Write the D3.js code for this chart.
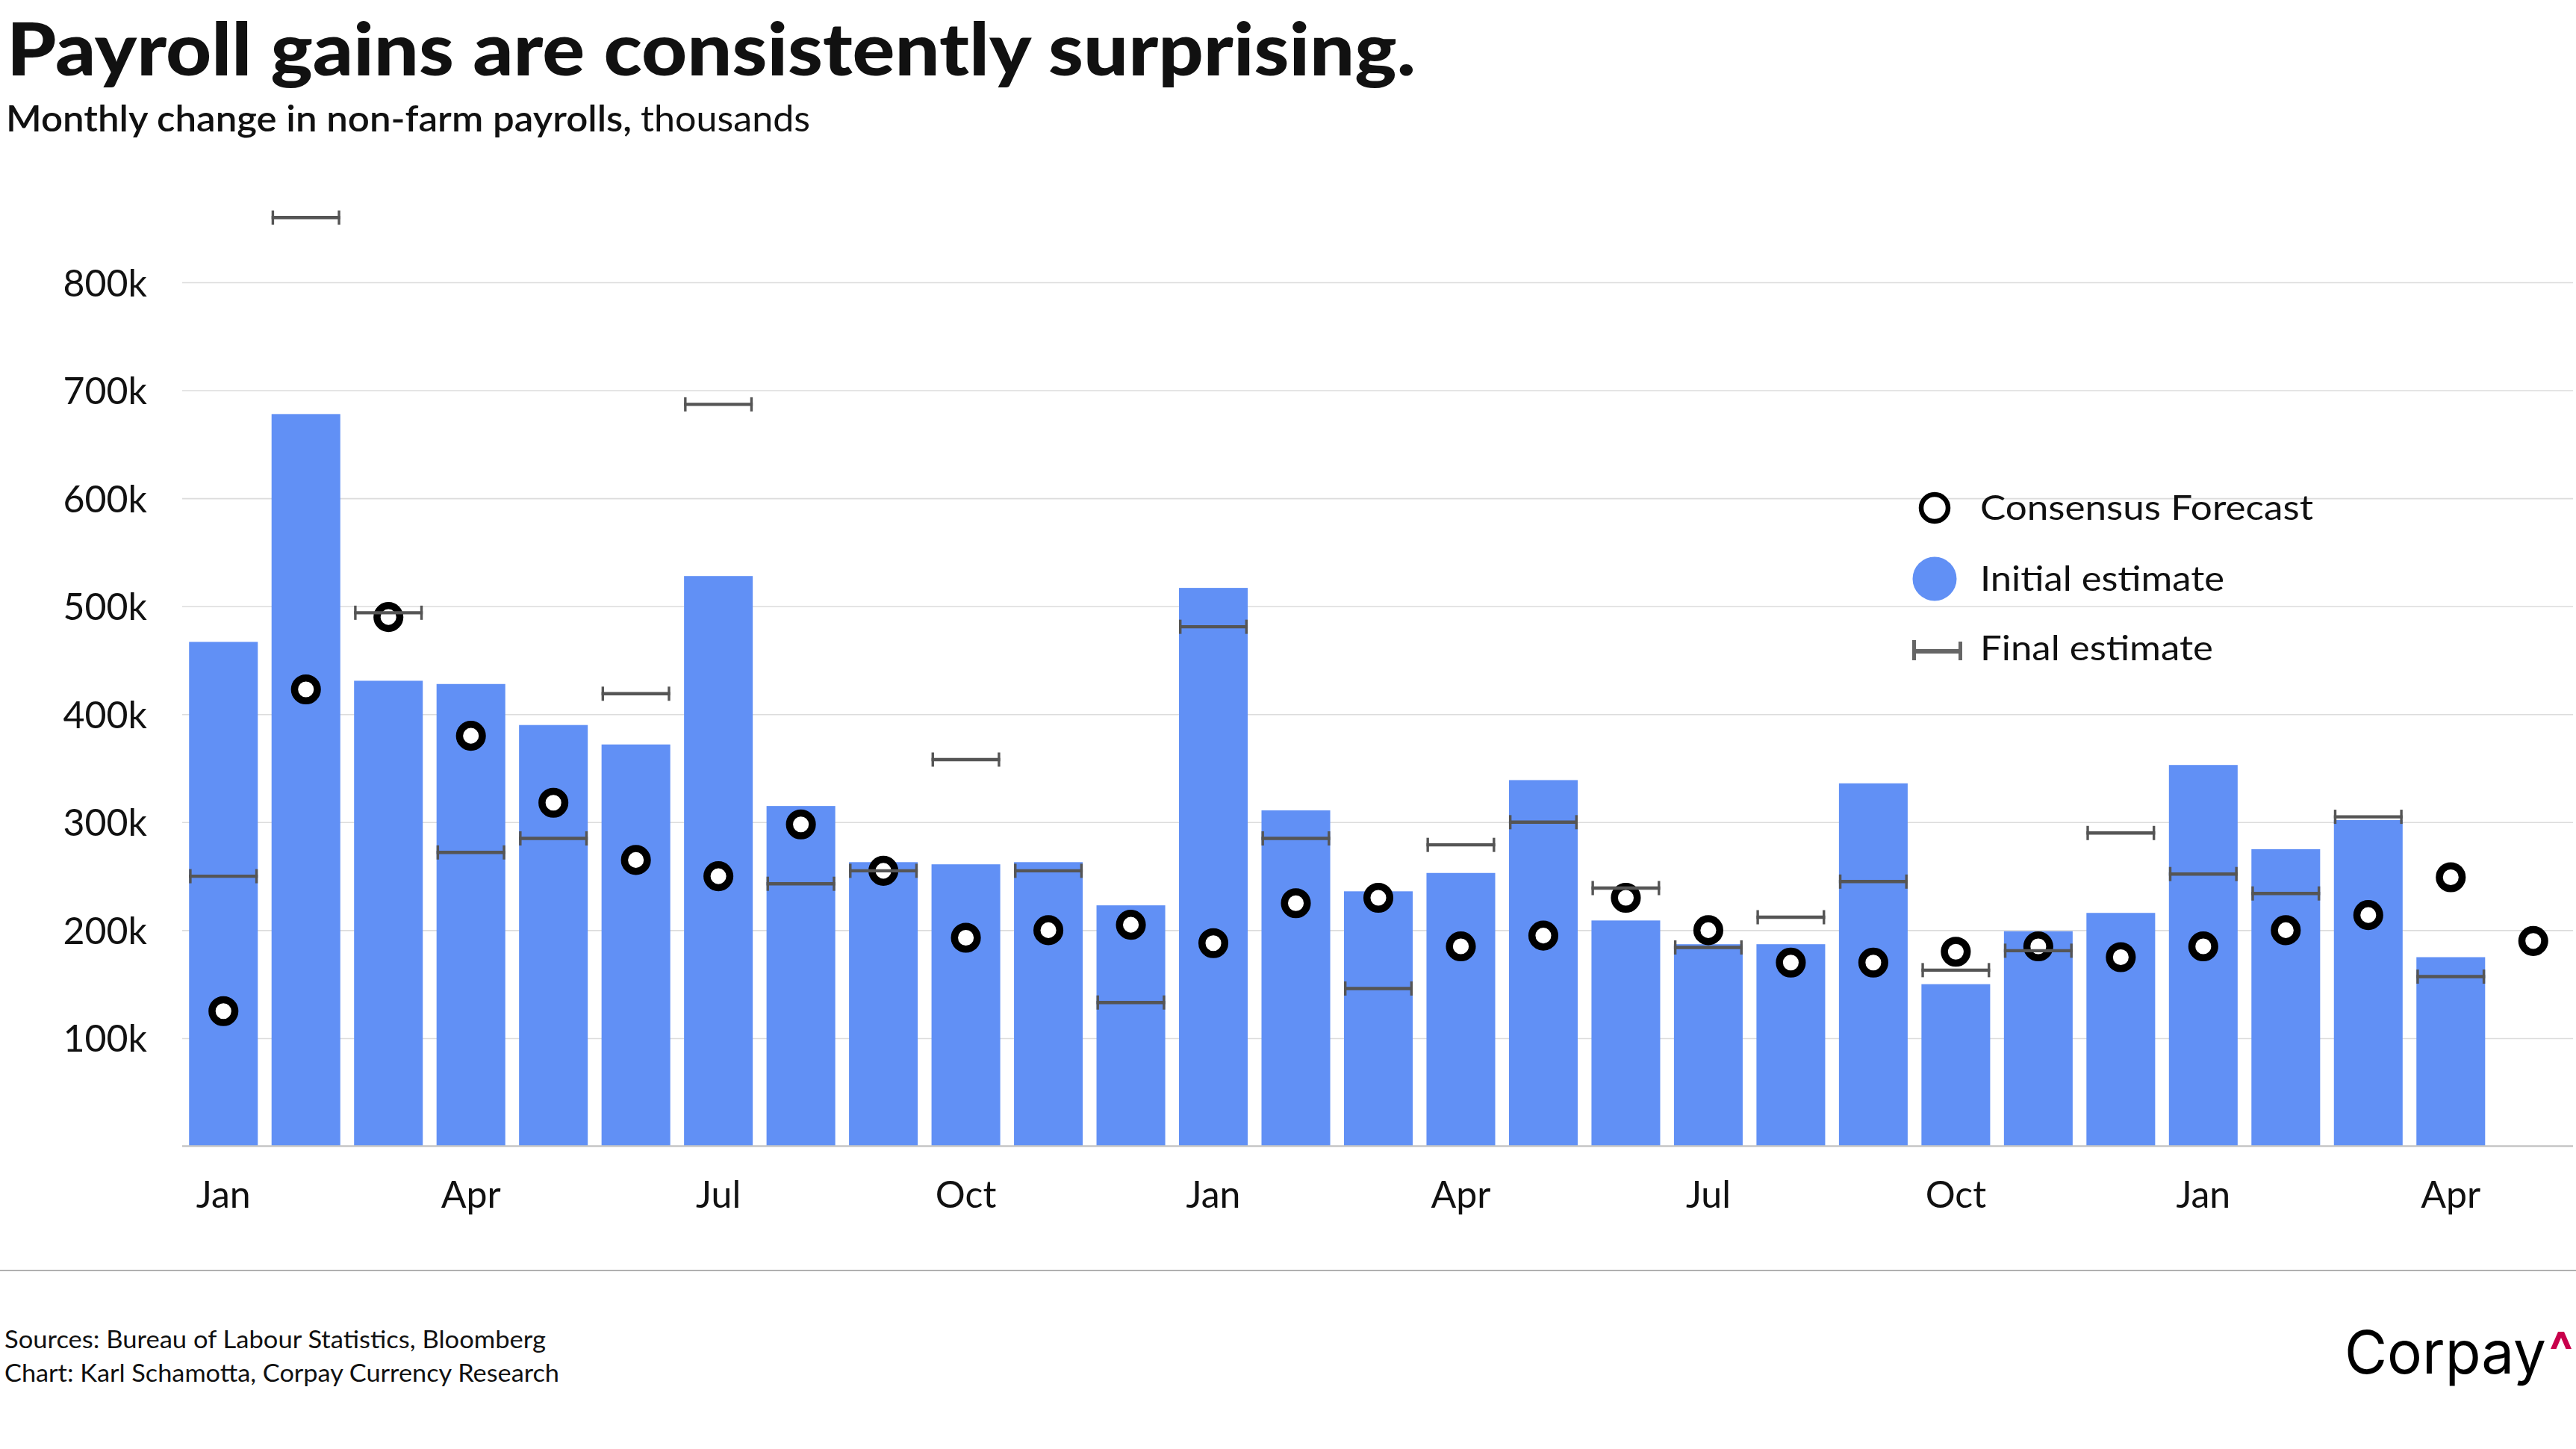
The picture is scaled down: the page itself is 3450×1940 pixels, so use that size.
<!DOCTYPE html>
<html>
<head>
<meta charset="utf-8">
<script src="https://cdn.jsdelivr.net/npm/d3@7"></script>
<style>
  html, body { margin: 0; padding: 0; background: #fff; }
  svg { display: block; }
</style>
</head>
<body>
<svg id="chart"></svg>
<script>
"use strict";

// ─────────────────────────────────────────
// Data (thousands)
// ─────────────────────────────────────────
const months = [
  "2022-01", "2022-02", "2022-03", "2022-04", "2022-05", "2022-06",
  "2022-07", "2022-08", "2022-09", "2022-10", "2022-11", "2022-12",
  "2023-01", "2023-02", "2023-03", "2023-04", "2023-05", "2023-06",
  "2023-07", "2023-08", "2023-09", "2023-10", "2023-11", "2023-12",
  "2024-01", "2024-02", "2024-03", "2024-04", "2024-05"
];
const initialEstimate = [
  467, 678, 431, 428, 390, 372, 528, 315, 263, 261, 263, 223,
  517, 311, 236, 253, 339, 209, 187, 187, 336, 150, 199, 216,
  353, 275, 302, 175
];
const consensusForecast = [
  125, 423, 490, 380, 318, 265, 250, 298, 255, 193, 200, 205,
  188, 225, 230, 185, 195, 230, 200, 170, 170, 180, 185, 175,
  185, 200, 214, 249, 190
];
const finalEstimate = [
  250, 860, 494, 272, 285, 419, 687, 243, 255, 358, 255, 133,
  481, 285, 146, 279, 300, 239, 184, 212, 245, 163, 181, 290,
  252, 234, 305, 157
];
const yTicks = [100, 200, 300, 400, 500, 600, 700, 800];
const xTickMonths = ["01", "04", "07", "10"];
const monthNames = { "01": "Jan", "04": "Apr", "07": "Jul", "10": "Oct" };
const legendItems = ["Consensus Forecast", "Initial estimate", "Final estimate"];

// ─────────────────────────────────────────
// Layout / style
// ─────────────────────────────────────────
const CONFIG = Object.freeze({
  WIDTH: 3450,
  HEIGHT: 1940,
  PLOT_LEFT: 244,
  PLOT_RIGHT: 3448,
  GRID_RIGHT: 3446,
  Y_ZERO: 1534.5,
  Y_800: 378,
  FONT: "Lato, 'Open Sans', sans-serif",
  TEXT: "#111",
  BAR: "#6190F5",
  FINAL: "#555555",
  GRID: "#dcdcdc",
  BASELINE: "#c6c6c6",
});

const svg = d3.select("#chart")
  .attr("width", CONFIG.WIDTH)
  .attr("height", CONFIG.HEIGHT)
  .style("font-family", CONFIG.FONT);

svg.append("rect")
  .attr("width", CONFIG.WIDTH)
  .attr("height", CONFIG.HEIGHT)
  .attr("fill", "#fff");

// ─────────────────────────────────────────
// Scales
// ─────────────────────────────────────────
const x = d3.scaleBand()
  .domain(months)
  .range([CONFIG.PLOT_LEFT, CONFIG.PLOT_RIGHT])
  .paddingInner(0.167)
  .paddingOuter(0.0835);

const y = d3.scaleLinear()
  .domain([0, 800])
  .range([CONFIG.Y_ZERO, CONFIG.Y_800]);

// ─────────────────────────────────────────
// Titles
// ─────────────────────────────────────────
svg.append("text")
  .attr("x", 9).attr("y", 101)
  .attr("font-size", 98).attr("font-weight", 900)
  .attr("fill", CONFIG.TEXT)
  .attr("textLength", 1887).attr("lengthAdjust", "spacingAndGlyphs")
  .text("Payroll gains are consistently surprising.");

svg.append("text")
  .attr("x", 8).attr("y", 176)
  .attr("font-size", 48).attr("font-weight", 600)
  .attr("fill", CONFIG.TEXT)
  .attr("textLength", 838).attr("lengthAdjust", "spacingAndGlyphs")
  .text("Monthly change in non-farm payrolls,");

svg.append("text")
  .attr("x", 858).attr("y", 176)
  .attr("font-size", 48).attr("font-weight", 400)
  .attr("fill", CONFIG.TEXT)
  .attr("textLength", 227).attr("lengthAdjust", "spacingAndGlyphs")
  .text("thousands");

// ─────────────────────────────────────────
// Axes / grid
// ─────────────────────────────────────────
const yAxis = svg.append("g")
  .attr("transform", `translate(${CONFIG.PLOT_LEFT},0)`)
  .call(d3.axisLeft(y)
    .tickValues(yTicks)
    .tickFormat(d => d + "k")
    .tickSize(-(CONFIG.GRID_RIGHT - CONFIG.PLOT_LEFT)));

yAxis.select(".domain").remove();
yAxis.selectAll(".tick line")
  .attr("stroke", CONFIG.GRID)
  .attr("stroke-width", 1.6);
yAxis.selectAll(".tick text")
  .attr("x", -47)
  .attr("dy", "0.36em")
  .attr("font-size", 50)
  .attr("font-family", CONFIG.FONT)
  .attr("fill", CONFIG.TEXT);

const xAxis = svg.append("g")
  .attr("transform", `translate(0,${CONFIG.Y_ZERO})`)
  .call(d3.axisBottom(x)
    .tickValues(months.filter(m => xTickMonths.includes(m.slice(5))))
    .tickFormat(m => monthNames[m.slice(5)])
    .tickSize(0));

xAxis.select(".domain").remove();
xAxis.selectAll(".tick text")
  .attr("y", 82)
  .attr("dy", 0)
  .attr("font-size", 50)
  .attr("font-family", CONFIG.FONT)
  .attr("fill", CONFIG.TEXT);

// ─────────────────────────────────────────
// Bars (initial estimate)
// ─────────────────────────────────────────
svg.append("g")
  .selectAll("rect")
  .data(initialEstimate)
  .join("rect")
  .attr("x", (d, i) => x(months[i]))
  .attr("y", d => y(d))
  .attr("width", x.bandwidth())
  .attr("height", d => y(0) - y(d))
  .attr("fill", CONFIG.BAR);

// baseline
svg.append("line")
  .attr("x1", CONFIG.PLOT_LEFT).attr("x2", CONFIG.GRID_RIGHT)
  .attr("y1", y(0)).attr("y2", y(0))
  .attr("stroke", CONFIG.BASELINE)
  .attr("stroke-width", 2.5);

// ─────────────────────────────────────────
// Consensus forecast circles
// ─────────────────────────────────────────
svg.append("g")
  .selectAll("circle")
  .data(consensusForecast)
  .join("circle")
  .attr("cx", (d, i) => x(months[i]) + x.bandwidth() / 2)
  .attr("cy", d => y(d))
  .attr("r", 15.3)
  .attr("fill", "#fff")
  .attr("stroke", "#000")
  .attr("stroke-width", 9.5);

// ─────────────────────────────────────────
// Final estimate markers
// ─────────────────────────────────────────
const finals = svg.append("g")
  .selectAll("g")
  .data(finalEstimate)
  .join("g")
  .attr("transform", (d, i) => `translate(${x(months[i])},${y(d)})`)
  .attr("stroke", CONFIG.FINAL);

finals.append("line")
  .attr("x1", 0).attr("x2", x.bandwidth())
  .attr("stroke-width", 4.4);
finals.append("line")
  .attr("x1", 1.7).attr("x2", 1.7).attr("y1", -9.5).attr("y2", 9.5)
  .attr("stroke-width", 3.4);
finals.append("line")
  .attr("x1", x.bandwidth() - 1.7).attr("x2", x.bandwidth() - 1.7)
  .attr("y1", -9.5).attr("y2", 9.5)
  .attr("stroke-width", 3.4);

// ─────────────────────────────────────────
// Legend
// ─────────────────────────────────────────
const legend = svg.append("g");
const legendX = 2591;

legend.append("circle")
  .attr("cx", legendX).attr("cy", 680).attr("r", 18)
  .attr("fill", "#fff").attr("stroke", "#000").attr("stroke-width", 6.5);

legend.append("circle")
  .attr("cx", legendX).attr("cy", 775).attr("r", 29.5)
  .attr("fill", CONFIG.BAR);

const lf = legend.append("g").attr("stroke", "#666");
lf.append("line").attr("x1", 2561).attr("x2", 2628).attr("y1", 872).attr("y2", 872).attr("stroke-width", 6);
lf.append("line").attr("x1", 2563.5).attr("x2", 2563.5).attr("y1", 857).attr("y2", 884).attr("stroke-width", 5);
lf.append("line").attr("x1", 2625.5).attr("x2", 2625.5).attr("y1", 859).attr("y2", 884).attr("stroke-width", 5);

const legendBaselines = [696, 791, 884];
const legendWidths = [446, 327, 312];
legend.selectAll("text")
  .data(legendItems)
  .join("text")
  .attr("x", 2652)
  .attr("y", (d, i) => legendBaselines[i])
  .attr("font-size", 46)
  .attr("fill", CONFIG.TEXT)
  .attr("textLength", (d, i) => legendWidths[i])
  .attr("lengthAdjust", "spacingAndGlyphs")
  .text(d => d);

// ─────────────────────────────────────────
// Footer
// ─────────────────────────────────────────
svg.append("line")
  .attr("x1", 0).attr("x2", CONFIG.WIDTH)
  .attr("y1", 1701).attr("y2", 1701)
  .attr("stroke", "#b0b0b0")
  .attr("stroke-width", 2);

svg.append("text")
  .attr("x", 6).attr("y", 1805)
  .attr("font-size", 32).attr("fill", CONFIG.TEXT)
  .attr("textLength", 725).attr("lengthAdjust", "spacingAndGlyphs")
  .text("Sources: Bureau of Labour Statistics, Bloomberg");

svg.append("text")
  .attr("x", 6).attr("y", 1850)
  .attr("font-size", 32).attr("fill", CONFIG.TEXT)
  .attr("textLength", 743).attr("lengthAdjust", "spacingAndGlyphs")
  .text("Chart: Karl Schamotta, Corpay Currency Research");

// logo
svg.append("text")
  .attr("x", 3140).attr("y", 1839)
  .attr("font-size", 80)
  .attr("font-family", "Inter, 'Liberation Sans', sans-serif")
  .attr("fill", "#000")
  .attr("textLength", 270).attr("lengthAdjust", "spacingAndGlyphs")
  .text("Corpay");

svg.append("path")
  .attr("d", "M3416,1806 L3426,1783 L3434,1783 L3444,1806 L3436.5,1806 L3430,1791 L3423.5,1806 Z")
  .attr("fill", "#C8004B");
</script>
</body>
</html>
